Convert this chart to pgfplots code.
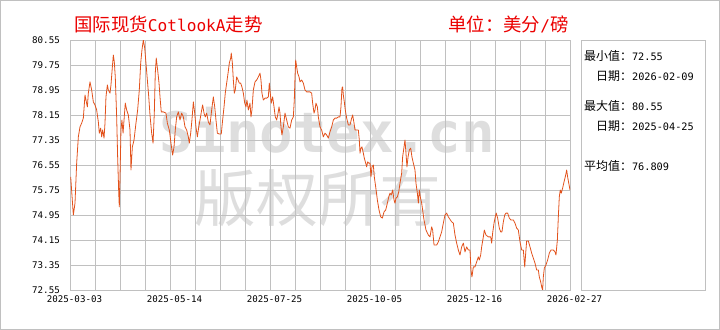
\documentclass[border=0pt]{standalone}
\usepackage{pgfplots}
\pgfplotsset{compat=1.18}
\usepackage{pgfplotstable}
\usepackage{fontspec}
\newfontfamily\cjk{Noto Sans CJK SC}
\newfontfamily\mono{DejaVu Sans Mono}
\definecolor{lineor}{RGB}{226,82,28}
\definecolor{gridgray}{RGB}{192,192,192}
\definecolor{wm}{RGB}{222,222,222}
\definecolor{titred}{RGB}{235,0,0}

\pgfplotstableread{
day value
0.5 76.17
2.4 74.95
3.6 75.33
4.8 76.61
6.0 77.45
7.2 77.77
8.4 77.89
9.6 78.05
10.8 78.79
11.5 78.63
12.5 78.41
13.2 78.85
14.4 79.21
15.6 78.95
16.8 78.57
18.0 78.47
19.2 78.31
20.4 77.93
21.1 77.57
22.1 77.73
22.8 77.45
23.5 77.67
24.5 77.41
25.2 77.89
25.9 78.73
26.9 79.11
27.6 78.95
28.8 78.85
29.5 79.11
30.5 79.69
31.2 80.07
31.9 79.85
32.6 79.37
33.6 78.09
34.3 76.81
35.1 75.65
35.5 75.21
36.0 76.17
36.7 77.67
37.4 77.99
38.2 77.57
38.9 77.99
39.8 78.53
40.8 78.31
42.0 78.15
43.2 77.67
43.9 76.39
44.9 77.13
46.1 77.35
47.5 77.89
48.7 78.31
49.9 78.95
50.9 79.81
51.8 80.23
52.8 80.55
53.8 80.29
54.7 79.81
55.7 79.27
56.7 78.73
57.6 78.15
58.8 77.57
59.8 77.25
60.7 78.21
61.4 79.49
62.1 79.97
63.1 79.59
64.1 79.17
64.8 78.73
65.7 78.25
67.2 78.25
69.1 78.21
70.1 77.89
71.5 77.67
72.7 77.25
73.9 76.87
74.9 77.13
75.8 77.67
76.8 78.09
78.0 78.25
79.2 77.99
80.4 78.21
81.6 78.09
82.8 77.77
84.0 77.67
85.2 77.45
85.9 77.25
86.9 77.57
87.8 77.99
88.8 78.57
89.8 78.21
90.7 77.77
91.7 77.45
92.7 77.77
93.6 77.99
94.8 78.31
95.5 78.47
96.5 78.21
97.4 78.09
98.4 78.21
99.6 77.93
100.8 77.83
102.0 78.31
103.2 78.73
104.2 78.41
105.1 77.99
106.1 77.57
107.5 77.54
108.9 77.54
109.9 77.99
110.9 78.41
111.8 78.85
112.8 79.17
113.8 79.49
114.7 79.81
115.7 79.97
116.1 80.13
116.9 79.81
117.6 79.27
118.3 78.85
119.0 78.95
120.0 79.37
121.0 79.27
121.9 79.17
122.9 79.17
123.8 79.05
124.8 78.85
125.8 78.53
126.7 78.41
127.4 78.63
128.4 78.31
129.6 78.53
130.3 78.09
131.0 78.31
132.0 78.95
133.2 79.21
134.4 79.27
135.6 79.37
136.8 79.49
137.5 79.27
138.2 78.85
139.2 78.63
140.4 78.69
141.6 78.69
142.8 78.73
143.5 79.17
144.2 78.85
144.9 78.53
145.9 78.73
146.9 78.41
147.8 78.09
148.8 77.99
149.8 78.21
150.5 78.41
151.2 78.21
151.9 77.77
152.6 77.51
153.6 77.77
154.8 78.21
156.0 77.99
157.2 77.77
158.4 77.73
159.6 77.99
160.8 78.09
161.5 78.63
162.0 79.37
162.5 79.91
163.2 79.69
163.9 79.49
164.9 79.37
165.6 79.21
166.8 79.27
168.0 79.17
169.2 78.95
170.4 78.89
172.8 78.89
174.0 78.85
174.7 78.53
175.7 78.21
176.4 78.31
177.1 78.53
178.1 78.41
178.8 78.09
180.0 77.77
181.2 77.67
182.4 77.45
183.6 77.57
184.8 77.51
186.0 77.41
187.2 77.61
188.4 77.77
189.6 77.99
190.8 78.05
192.0 78.05
193.2 78.09
194.4 78.09
195.1 78.41
195.8 79.01
196.3 79.05
196.8 78.79
197.5 78.57
198.2 78.31
199.2 78.05
200.4 77.83
201.6 77.83
202.8 78.05
203.5 78.15
204.5 77.89
205.2 77.67
206.4 77.67
207.6 77.67
208.3 77.35
208.8 76.93
209.5 77.09
210.2 77.13
211.2 76.93
211.9 76.77
212.9 76.61
213.6 76.49
214.3 76.65
215.1 76.61
216.0 76.61
216.7 76.17
217.4 76.49
218.4 76.55
219.1 76.17
220.1 75.85
221.3 75.43
222.5 75.11
223.7 74.89
224.9 74.85
226.1 75.05
227.3 75.11
228.5 75.33
229.5 75.53
230.4 75.65
231.3 75.59
232.3 75.75
233.3 75.43
234.0 75.33
234.7 75.49
235.7 75.53
236.7 75.69
237.6 75.97
238.8 76.29
239.5 76.81
240.5 77.13
241.2 77.35
241.9 76.93
242.6 76.49
243.4 76.81
244.3 77.03
245.3 77.09
246.2 76.81
247.2 76.61
248.4 76.39
249.1 75.97
250.1 75.65
250.8 75.33
251.5 75.75
252.2 75.53
253.2 75.33
254.9 74.79
256.3 74.47
258.0 74.31
259.2 74.25
260.4 74.57
261.1 74.47
262.1 73.99
264.0 73.99
265.2 74.09
266.4 74.25
267.6 74.41
268.8 74.69
270.0 74.95
271.2 75.01
272.4 74.89
274.8 74.73
276.0 74.69
277.2 74.31
278.4 74.05
279.6 73.83
280.8 73.67
282.0 73.93
283.2 74.05
284.4 73.77
285.6 73.93
286.8 73.83
288.0 73.83
288.7 73.19
289.4 72.97
290.4 73.29
291.6 73.29
292.8 73.45
294.0 73.61
294.7 73.51
295.7 73.67
296.4 73.93
297.6 74.25
298.3 74.47
299.5 74.31
301.2 74.25
302.9 74.25
303.6 74.05
304.3 74.37
305.3 74.69
306.2 74.89
306.9 75.01
307.9 74.85
309.1 74.53
310.1 74.41
311.0 74.41
312.0 74.73
313.0 74.95
313.9 75.01
315.1 75.01
316.3 74.85
317.5 74.79
319.2 74.79
320.4 74.69
321.6 74.53
322.8 74.47
324.0 74.09
325.2 73.83
326.4 73.83
327.4 73.29
328.1 73.73
328.8 74.12
330.0 74.12
331.2 73.93
332.4 73.73
333.6 73.57
334.8 73.41
336.0 73.19
337.2 73.19
337.9 72.97
338.9 72.81
339.8 72.61
340.3 72.55
340.8 72.97
341.5 73.25
342.7 73.35
343.9 73.51
345.1 73.73
346.3 73.83
348.0 73.83
349.2 73.77
349.9 73.67
350.9 74.15
351.6 74.89
352.3 75.53
353.0 75.75
353.7 75.65
354.7 75.81
355.7 76.01
356.6 76.17
357.6 76.39
358.3 76.17
359.1 75.97
360.0 75.75
}\cotlook

\begin{document}
\begin{tikzpicture}
\path[use as bounding box] (0,0) rectangle (720bp,330bp);
\draw[gridgray, line width=0.8bp] (0.6bp,0.6bp) rectangle (719.4bp,329.4bp);
% watermark
\node[wm, anchor=base, inner sep=0pt, font={\mono\bfseries\fontsize{56}{60}\selectfont}] at (327bp,177bp) {Sinotex.cn};
\node[wm, anchor=center, inner sep=0pt, font={\cjk\fontsize{62}{66}\selectfont}] at (318bp,132bp) {版权所有};
% titles
\node[titred, anchor=west, inner sep=0pt] at (74bp,306bp) {\cjk\fontsize{18.5}{20}\selectfont 国际现货{\mono\fontsize{16.2}{20}\selectfont CotlookA}走势};
\node[titred, anchor=west, inner sep=0pt] at (448bp,306bp) {\cjk\fontsize{18.5}{20}\selectfont 单位：美分{\mono\fontsize{16.2}{20}\selectfont /}磅};
% right panel
\draw[gridgray, line width=0.8bp] (581bp,40bp) rectangle (705bp,290bp);
\begin{scope}[every node/.style={anchor=west, inner sep=0pt, text=black}]
\node at (584bp,274.3bp) {\cjk\fontsize{12}{14}\selectfont 最小值：{\mono\fontsize{10.3}{14}\selectfont 72.55}};
\node at (596bp,254.3bp) {\cjk\fontsize{12}{14}\selectfont 日期：{\mono\fontsize{10.3}{14}\selectfont 2026-02-09}};
\node at (584bp,224bp) {\cjk\fontsize{12}{14}\selectfont 最大值：{\mono\fontsize{10.3}{14}\selectfont 80.55}};
\node at (596bp,204bp) {\cjk\fontsize{12}{14}\selectfont 日期：{\mono\fontsize{10.3}{14}\selectfont 2025-04-25}};
\node at (584bp,164bp) {\cjk\fontsize{12}{14}\selectfont 平均值：{\mono\fontsize{10.3}{14}\selectfont 76.809}};
\end{scope}
\begin{axis}[
  at={(70bp,40bp)}, anchor=south west,
  scale only axis, width=500bp, height=250bp,
  xmin=0, xmax=360, ymin=72.55, ymax=80.55,
  xtick={0,72,144,216,288,360},
  xticklabels={2025-03-03,2025-05-14,2025-07-25,2025-10-05,2025-12-16,2026-02-27},
  minor xtick={18,36,54,90,108,126,162,180,198,234,252,270,306,324,342},
  ytick={72.55,73.35,74.15,74.95,75.75,76.55,77.35,78.15,78.95,79.75,80.55},
  yticklabels={72.55,73.35,74.15,74.95,75.75,76.55,77.35,78.15,78.95,79.75,80.55},
  grid=both,
  major grid style={gridgray, line width=0.8bp},
  minor grid style={gridgray, line width=0.8bp},
  axis line style={gridgray, line width=0.8bp},
  major tick length=0pt, minor tick length=0pt,
  tick style={draw=none},
  ticklabel style={font={\mono\fontsize{9.2}{11}\selectfont}, text=black},
  yticklabel style={anchor=east, inner sep=0pt, xshift=-10bp},
  xticklabel style={anchor=north, inner sep=0pt, yshift=-5bp, xshift=4.5bp},
]
\addplot[lineor, line width=0.8bp, line join=round, mark=none] table[x=day, y=value] {\cotlook};
\end{axis}
\end{tikzpicture}
\end{document}
